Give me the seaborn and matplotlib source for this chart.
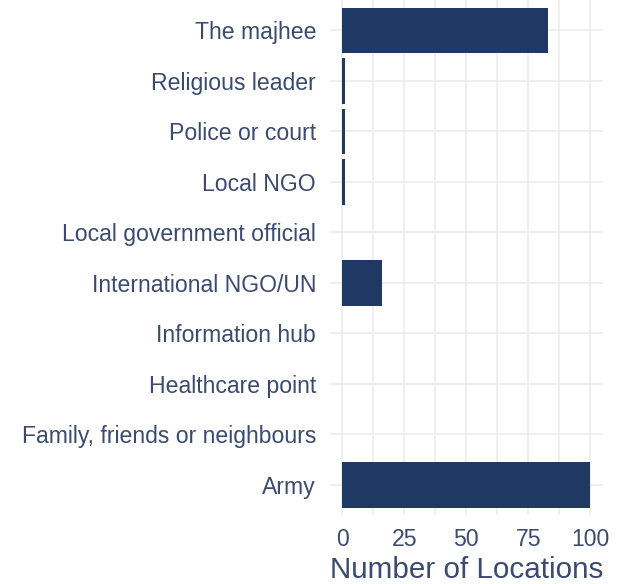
import numpy as np
import pandas as pd
import matplotlib
matplotlib.use('Agg')
import matplotlib.pyplot as plt
import seaborn as sns

categories = ['The majhee', 'Religious leader', 'Police or court', 'Local NGO',
              'Local government official', 'International NGO/UN',
              'Information hub', 'Healthcare point',
              'Family, friends or neighbours', 'Army']
counts = [83, 1, 1, 1, 0, 16, 0, 0, 0, 100]
x_ticks = [0, 25, 50, 75, 100]

df = pd.DataFrame({'source': categories, 'n': counts})

sns.set_style("white")
plt.rcParams['font.family'] = ['Liberation Sans', 'DejaVu Sans']

text_col = '#3a4a70'
bar_col = '#1f3864'
grid_col = '#ebebeb'

fig = plt.figure(figsize=(6.26, 5.84), dpi=100)
ax = fig.add_axes([0.527, 0.118, 0.436, 0.882])

sns.barplot(data=df, y='source', x='n', orient='h', color=bar_col,
            width=0.9, saturation=1, ax=ax, order=categories, linewidth=0)

ax.set_xlim(-5, 105)
ax.set_ylim(9.6, -0.6)
ax.set_xticks(x_ticks)
ax.set_xticks([12.5, 37.5, 62.5, 87.5], minor=True)
ax.grid(which='both', axis='both', color=grid_col, lw=1.1)
ax.set_axisbelow(True)
for s in ax.spines.values():
    s.set_visible(False)

ax.tick_params(axis='both', which='both', length=0, labelsize=16.6,
               labelcolor=text_col)
ax.tick_params(axis='y', pad=10)
ax.tick_params(axis='x', pad=9)
ax.set_ylabel('')
ax.set_xlabel('Number of Locations', fontsize=21.3, color=text_col, labelpad=4)

plt.savefig('out.png', dpi=100)
